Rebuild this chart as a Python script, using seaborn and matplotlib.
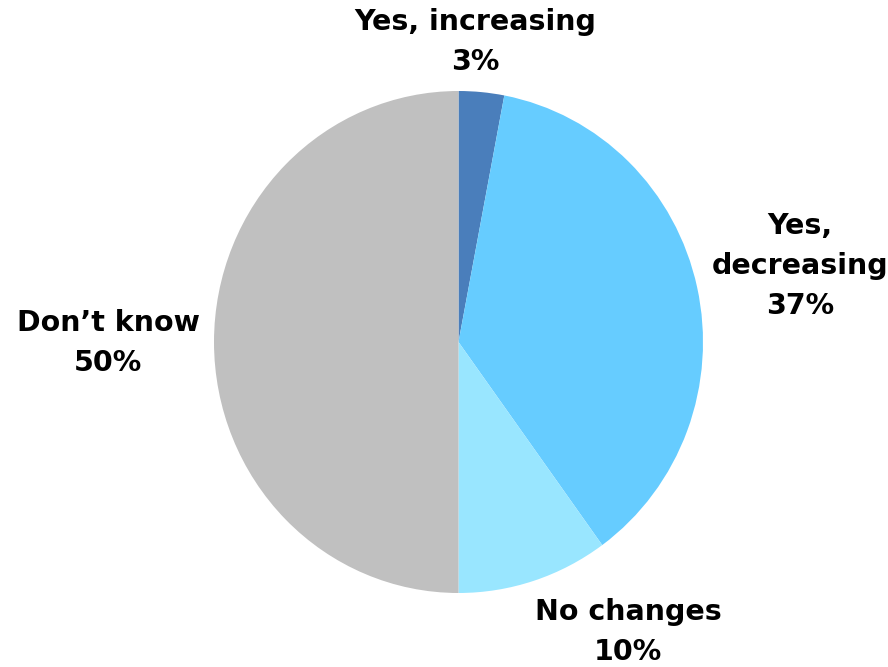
import matplotlib
matplotlib.use("Agg")
import matplotlib.pyplot as plt
import seaborn as sns

# Survey shares
categories = ["Yes, increasing", "Yes,\ndecreasing", "No changes", "Don\u2019t know"]
shares = [3, 37, 10, 50]
colors = ["#4A7EBB", "#66CCFF", "#99E6FF", "#C0C0C0"]

# Label anchor points (figure pixels, origin top-left)
label_pos = [(475, 42), (800, 266), (628, 632), (108, 343)]

sns.set_theme(style="white")
plt.rcParams["font.family"] = ["DejaVu Sans"]

W, H = 888, 667
fig = plt.figure(figsize=(W / 100, H / 100), dpi=100)
fig.patch.set_facecolor("white")

# Pie occupies x 214..703, y 91..593 in pixels
left, right, top, bottom = 214, 703, 91, 593
ax = fig.add_axes([left / W, 1 - bottom / H, (right - left) / W, (bottom - top) / H])
ax.pie(shares, colors=colors, startangle=90, counterclock=False,
       radius=1.0, wedgeprops=dict(linewidth=0, antialiased=True))
ax.set_aspect("auto")
ax.set_xlim(-1, 1)
ax.set_ylim(-1, 1)
ax.axis("off")

for cat, val, (px, py) in zip(categories, shares, label_pos):
    fig.text(px / W, 1 - py / H, f"{cat}\n{val}%", ha="center", va="center",
             fontsize=20.5, fontweight="bold", color="black", linespacing=1.55)

fig.savefig("out.png", dpi=100, facecolor="white")
